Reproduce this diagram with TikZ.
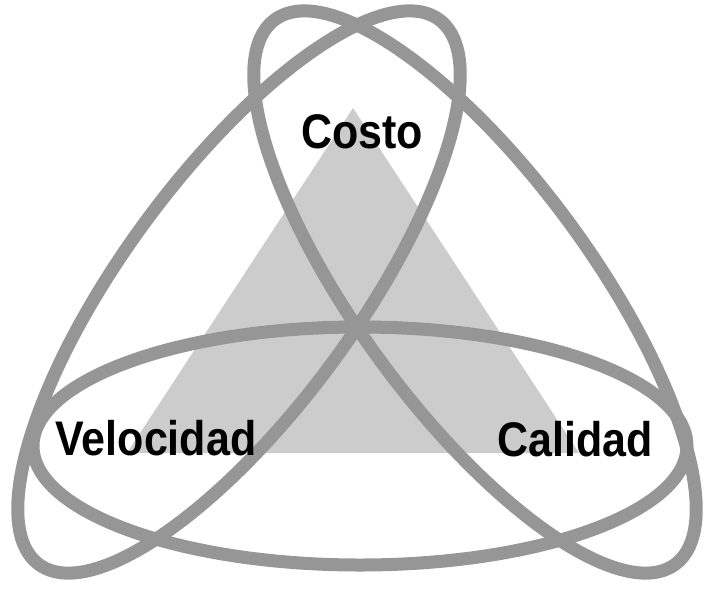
\documentclass[tikz,border=0pt]{standalone}
\usepackage{fontspec}
\setmainfont{Liberation Sans}
\definecolor{ringgray}{RGB}{150,150,150}
\definecolor{trigray}{RGB}{204,204,204}
\newcommand{\orbit}[4]{\draw[ringgray,line width=13pt,rotate around={#2:(#1)}]
	(#1) ellipse [x radius=#3,y radius=#4]}
\tikzset{label text/.style={anchor=base,inner sep=0pt,
	font=\fontsize{43}{43}\selectfont\bfseries}}

\begin{document}
\begin{tikzpicture}[x=1pt,y=-1pt]
\useasboundingbox (0,0) rectangle (709,592);
\fill[trigray] (353,108) -- (579,453) -- (127,453) -- cycle;
	\orbit{360,446}{0}{327}{119};
	\orbit{239,292}{53.7}{338}{117};
	\orbit{475,292}{-53.7}{338}{117};
%
\node[label text] (costo) at (362,148) {\scalebox{1}[1.13]{Costo}};
\node[label text] (velocidad) at (156,455) {\scalebox{1}[1.13]{Velocidad}};
\node[label text] (calidad) at (575,456) {\scalebox{1}[1.13]{Calidad}};
\end{tikzpicture}
\end{document}
